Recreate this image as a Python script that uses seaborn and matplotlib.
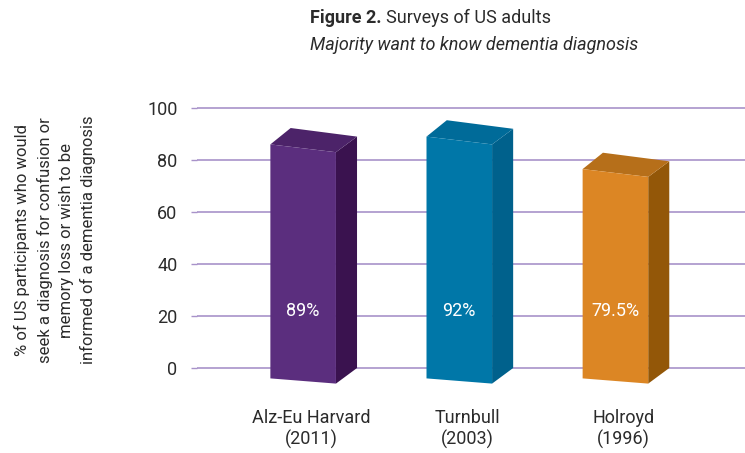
import numpy as np
import pandas as pd
import matplotlib
matplotlib.use('Agg')
import matplotlib.pyplot as plt
from matplotlib.patches import Polygon
import seaborn as sns

studies = ['Alz-Eu Harvard\n(2011)', 'Turnbull\n(2003)', 'Holroyd\n(1996)']
pct = [89, 92, 79.5]
pct_labels = ['89%', '92%', '79.5%']
yticks = [0, 20, 40, 60, 80, 100]

front_cols = ['#5b2e7e', '#0077a8', '#dc8624']
side_cols = ['#3a124f', '#00618c', '#935708']
top_cols = ['#4c2369', '#006b99', '#b66f1a']

sns.set_style('white')
plt.rcParams['font.family'] = ['Roboto', 'DejaVu Sans']
txt = '#2b2b2b'
grid_col = '#a892c9'

fig = plt.figure(figsize=(7.45, 4.53), dpi=100)
ax = fig.add_axes([197 / 745, 1 - 394 / 453, 1 - 197 / 745, (394 - 100.2) / 453])

df = pd.DataFrame({'study': studies, 'pct': pct})
sns.barplot(data=df, x='study', y='pct', hue='study', palette=front_cols,
            width=0.42, legend=False, ax=ax, zorder=3)

# turn flat bars into pseudo-3D boxes
dx, back = 0.135, 0.13
base = -5
for i, p in enumerate(ax.patches):
    x0 = p.get_x()
    x1 = x0 + p.get_width()
    v = pct[i]
    p.set_visible(False)
    front = [(x0, v - 3), (x1, v - 6), (x1, base - 1), (x0, base + 1)]
    side = [(x1, v - 6), (x1 + dx, v), (x1 + dx, base + 5), (x1, base - 1)]
    top = [(x0, v - 3), (x0 + back, v + 3.3), (x1 + dx, v), (x1, v - 6)]
    ax.add_patch(Polygon(side, closed=True, facecolor=side_cols[i], edgecolor='none', zorder=4))
    ax.add_patch(Polygon(top, closed=True, facecolor=top_cols[i], edgecolor='none', zorder=4))
    ax.add_patch(Polygon(front, closed=True, facecolor=front_cols[i], edgecolor='none', zorder=5))
    ax.text((x0 + x1) / 2, 22, pct_labels[i], color='white', ha='center', va='center',
            fontsize=13, zorder=6)

ax.set_xlim(-0.68, 2.83)
ax.set_ylim(-10, 103)
ax.set_yticks(yticks)
ax.set_yticklabels([str(t) for t in yticks], fontsize=13, color=txt)
ax.yaxis.grid(True, color=grid_col, lw=1.2, zorder=0)
ax.set_axisbelow(True)
ax.tick_params(axis='y', length=4, color=grid_col, width=1, pad=10, left=True)
ax.set_xticks([i + 0.05 for i in range(len(studies))])
ax.set_xticklabels(studies, fontsize=13, color=txt, linespacing=1.2)
ax.tick_params(axis='x', length=0, pad=11)
ax.set_xlabel('')
ax.set_ylabel('')
for s in ax.spines.values():
    s.set_visible(False)

fig.text(55 / 745, 1 - 240 / 453,
         '% of US participants who would\nseek a diagnosis for confusion or\nmemory loss or wish to be\ninformed of a dementia diagnosis',
         rotation=90, ha='center', va='center', fontsize=12, color=txt, linespacing=1.5)

t1 = fig.text(310 / 745, 1 - 18 / 453, 'Figure 2.', fontsize=13, fontweight='bold',
              color=txt, ha='left', va='center')
fig.canvas.draw()
bb = t1.get_window_extent()
fig.text(bb.x1 / 745 + 0.006, 1 - 18 / 453, 'Surveys of US adults', fontsize=13,
         color=txt, ha='left', va='center')
fig.text(310 / 745, 1 - 45 / 453, 'Majority want to know dementia diagnosis', fontsize=13,
         style='italic', color=txt, ha='left', va='center')

fig.savefig('out.png', dpi=100)
